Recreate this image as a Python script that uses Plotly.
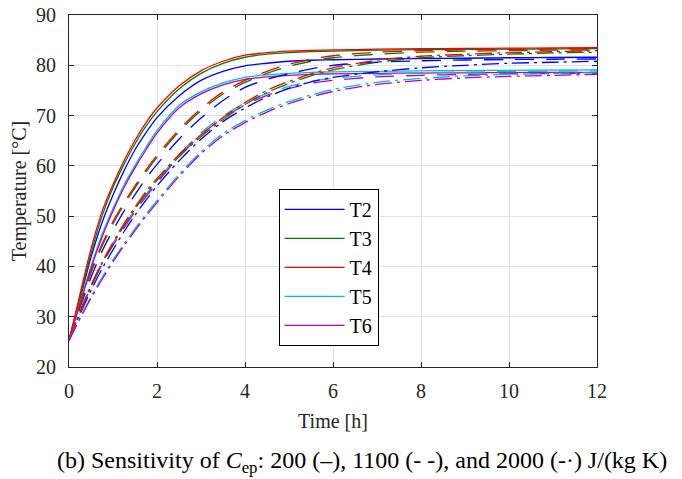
import plotly.graph_objects as go

# time grid [h]
time_h = [0, 0.25, 0.5, 0.75, 1, 1.25, 1.5, 1.75, 2, 2.5, 3, 3.5, 4, 4.5, 5, 5.5, 6, 7, 8, 9, 10, 11, 12]

# Cep = 200 J/(kg K)  (solid)
t2_200 = [25.3, 33.5, 41.8, 48.7, 54.2, 59.0, 63.2, 66.6, 69.6, 73.9, 77.0, 78.8, 79.9, 80.4, 80.8, 81.0, 81.1, 81.25, 81.35, 81.4, 81.5, 81.55, 81.6]
t3_200 = [25.3, 33.8, 42.6, 50.0, 55.7, 60.3, 64.4, 67.9, 70.8, 75.3, 78.4, 80.4, 81.6, 82.2, 82.5, 82.7, 82.8, 83.0, 83.1, 83.15, 83.2, 83.25, 83.3]
t4_200 = [25.3, 34.5, 43.5, 50.9, 56.3, 61.0, 65.1, 68.6, 71.5, 75.9, 78.9, 80.8, 82.0, 82.5, 82.8, 82.95, 83.05, 83.2, 83.3, 83.35, 83.4, 83.45, 83.5]
t5_200 = [25.3, 32.8, 40.0, 46.3, 51.5, 56.2, 60.1, 63.7, 67.0, 72.0, 74.7, 76.5, 77.6, 78.1, 78.4, 78.6, 78.7, 78.8, 78.9, 78.95, 79.0, 79.05, 79.1]
t6_200 = [25.3, 32.5, 39.6, 45.8, 51.0, 55.7, 59.6, 63.2, 66.5, 71.5, 74.3, 76.1, 77.2, 77.7, 78.0, 78.2, 78.3, 78.4, 78.45, 78.5, 78.55, 78.6, 78.6]

# Cep = 1100 J/(kg K)  (dashed)
t2_1100 = [25.3, 31.8, 37.8, 43.0, 47.2, 51.0, 54.3, 57.5, 60.3, 65.3, 69.5, 73.0, 75.6, 77.2, 78.3, 79.3, 80.0, 80.6, 80.9, 81.05, 81.15, 81.2, 81.25]
t3_1100 = [25.3, 32.2, 38.7, 44.0, 48.5, 52.3, 55.6, 58.8, 61.7, 66.8, 71.0, 74.3, 76.6, 78.4, 79.8, 80.8, 81.5, 82.2, 82.6, 82.8, 82.9, 83.0, 83.05]
t4_1100 = [25.3, 32.5, 39.1, 44.4, 48.9, 52.7, 56.0, 59.2, 62.1, 67.2, 71.4, 74.7, 77.0, 78.8, 80.2, 81.2, 81.9, 82.6, 82.9, 83.05, 83.15, 83.25, 83.3]
t5_1100 = [25.3, 31.0, 36.3, 40.8, 44.6, 48.0, 51.3, 54.3, 57.0, 62.2, 66.6, 69.9, 72.5, 74.4, 75.8, 76.8, 77.4, 78.1, 78.5, 78.65, 78.75, 78.85, 78.9]
t6_1100 = [25.3, 30.7, 35.9, 40.4, 44.2, 47.6, 50.9, 53.9, 56.6, 61.8, 66.2, 69.5, 72.1, 74.0, 75.4, 76.4, 77.0, 77.7, 78.0, 78.2, 78.3, 78.35, 78.4]

# Cep = 2000 J/(kg K)  (dash-dot)
t2_2000 = [25.3, 30.5, 35.2, 39.5, 43.3, 46.9, 50.2, 53.2, 56.0, 61.0, 65.3, 68.8, 71.5, 73.7, 75.4, 76.7, 77.6, 78.7, 79.5, 80.0, 80.4, 80.6, 80.8]
t3_2000 = [25.3, 30.8, 35.9, 40.5, 44.4, 48.1, 51.4, 54.5, 57.1, 61.8, 65.8, 69.2, 72.2, 74.6, 76.4, 77.9, 79.1, 80.6, 81.5, 81.9, 82.2, 82.45, 82.6]
t4_2000 = [25.3, 31.0, 36.2, 40.8, 44.8, 48.5, 51.8, 54.9, 57.5, 62.2, 66.2, 69.6, 72.6, 75.0, 76.8, 78.3, 79.5, 81.0, 81.8, 82.2, 82.5, 82.7, 82.9]
t5_2000 = [25.3, 29.8, 34.0, 37.8, 41.3, 44.5, 47.5, 50.4, 53.1, 58.3, 62.8, 66.4, 69.0, 71.1, 72.8, 74.1, 75.2, 76.6, 77.4, 77.9, 78.2, 78.4, 78.5]
t6_2000 = [25.3, 29.6, 33.7, 37.4, 40.9, 44.1, 47.1, 50.0, 52.7, 57.9, 62.4, 66.0, 68.6, 70.7, 72.4, 73.7, 74.8, 76.2, 77.0, 77.5, 77.8, 78.0, 78.2]

sensors = ['T2', 'T3', 'T4', 'T5', 'T6']
colors = ['#0000ff', '#008000', '#ff0000', '#00bfbf', '#bf00bf']
runs = [
    ([t2_200, t3_200, t4_200, t5_200, t6_200], 'solid'),
    ([t2_1100, t3_1100, t4_1100, t5_1100, t6_1100], '19px,12px'),
    ([t2_2000, t3_2000, t4_2000, t5_2000, t6_2000], '17px,5px,3px,5px'),
]

FONT = 'Liberation Serif, Times New Roman, serif'

fig = go.Figure()
for k, (series, dash) in enumerate(runs):
    for name, col, y in zip(sensors, colors, series):
        fig.add_trace(go.Scatter(
            x=time_h, y=y, mode='lines', name=name,
            line=dict(color=col, width=1.3, dash=dash, shape='spline', smoothing=0.8),
            showlegend=(k == 0), legendgroup=name,
        ))

axis_style = dict(
    showline=True, linecolor='#262626', linewidth=1, mirror='ticks',
    ticks='inside', ticklen=5, tickcolor='#262626',
    showgrid=True, gridcolor='#e3e3e3', gridwidth=1, zeroline=False,
    tickfont=dict(family=FONT, size=20, color='#262626'),
    automargin=False, ticklabeloverflow='allow',
)

fig.update_xaxes(range=[0, 12], dtick=2, ticklabelstandoff=6,
                 title=dict(text='Time [h]', standoff=12,
                            font=dict(family=FONT, size=20, color='#262626')), **axis_style)
fig.update_yaxes(range=[20, 90], dtick=10, ticklabelstandoff=8,
                 title=dict(text='Temperature [°C]', standoff=6,
                            font=dict(family=FONT, size=20, color='#262626')), **axis_style)

fig.add_annotation(
    text='(b) Sensitivity of <i>C</i><sub>ep</sub>: 200 (–), 1100 (- -), and 2000 (-·) J/(kg K)',
    xref='paper', yref='paper', x=0.555, y=-0.27, xanchor='center', yanchor='middle',
    showarrow=False, font=dict(family=FONT, size=24, color='#000000'),
)

# the page body adds an 8px offset, so the figure is drawn 8px smaller
fig.update_layout(
    width=674, height=471,
    margin=dict(l=61, r=85, t=7, b=112),
    paper_bgcolor='white', plot_bgcolor='white',
    font=dict(family=FONT, size=20, color='#000000'),
    legend=dict(
        x=0.397, y=0.506, xanchor='left', yanchor='top',
        bgcolor='white', bordercolor='#000000', borderwidth=1,
        font=dict(family=FONT, size=20), tracegroupgap=0, itemwidth=60,
    ),
)

fig.write_html('out.html')
